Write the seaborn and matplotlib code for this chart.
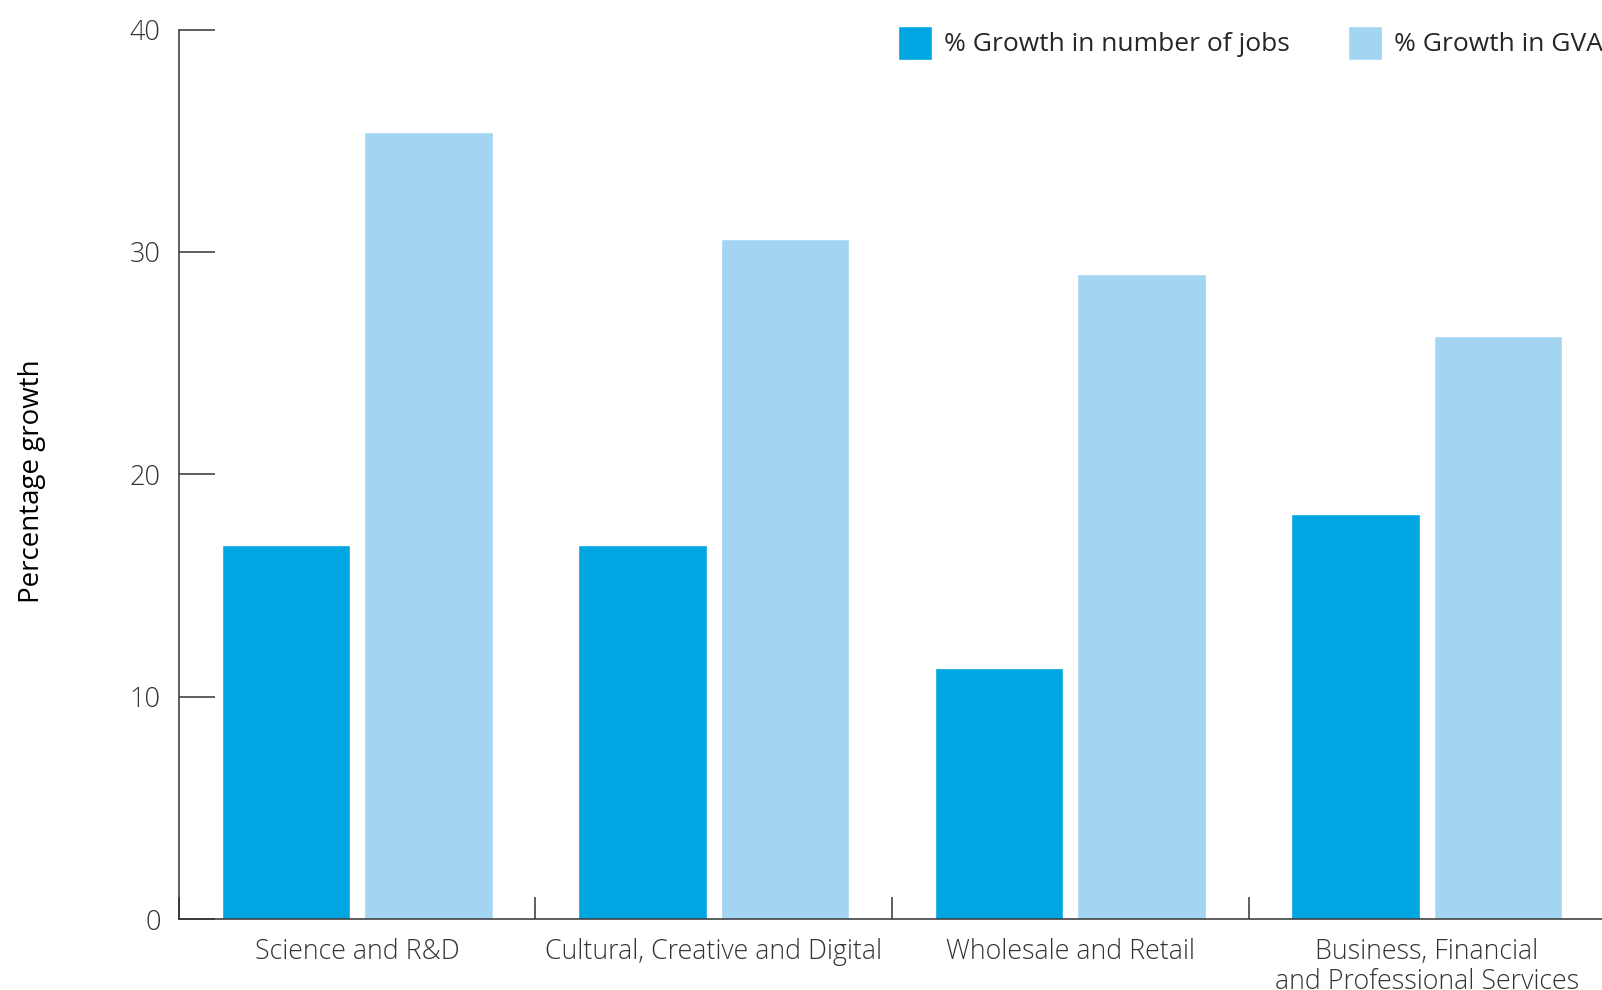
import numpy as np
import pandas as pd
import matplotlib
matplotlib.use("Agg")
import matplotlib.pyplot as plt
import seaborn as sns

# values
sectors = ["Science and R&D", "Cultural, Creative and Digital",
           "Wholesale and Retail", "Business, Financial\nand Professional Services"]
jobs_growth = [16.8, 16.8, 11.3, 18.2]
gva_growth = [35.4, 30.6, 29.0, 26.2]
series = ["% Growth in number of jobs", "% Growth in GVA"]
y_ticks = [0, 10, 20, 30, 40]

df = pd.DataFrame({
    "sector": sectors * 2,
    "growth": jobs_growth + gva_growth,
    "series": [series[0]] * len(sectors) + [series[1]] * len(sectors),
})

sns.set_theme(style="white")
plt.rcParams["font.family"] = ["Open Sans", "DejaVu Sans"]
text_col = "#333333"

fig = plt.figure(figsize=(16.02, 9.9), dpi=100)
ax = fig.add_axes([0.1116, 0.0717, 0.8904, 0.8985])

sns.barplot(data=df, x="sector", y="growth", hue="series", order=sectors,
            hue_order=series, palette=["#00a6e2", "#a3d5f3"],
            width=0.8, gap=0.1, saturation=1, ax=ax)

ax.set_xlim(-0.5, 3.5)
ax.set_ylim(0, 40)
ax.set_yticks(y_ticks)
ax.tick_params(axis="y", direction="in", length=26, width=1.1, color=text_col,
               labelsize=19.5, labelcolor=text_col, pad=13, left=True)
for lab in ax.get_yticklabels():
    lab.set_fontweight("light")

# category boundary ticks (major) and centred labels (minor)
ax.set_xticks([-0.5, 0.5, 1.5, 2.5])
ax.set_xticklabels([])
ax.tick_params(axis="x", which="major", direction="in", length=16, width=1.1,
               color=text_col, bottom=True)
ax.set_xticks(range(len(sectors)), minor=True)
ax.set_xticklabels(sectors, minor=True, fontsize=19.3, color=text_col,
                   fontweight="light", linespacing=1.05)
ax.tick_params(axis="x", which="minor", length=0, pad=14, bottom=True)

ax.set_xlabel("")
ax.set_ylabel("")
fig.text(32 / 1602, 1 - 481 / 990, "Percentage growth", rotation=90,
         ha="center", va="center", fontsize=20, color="black")

for s in ["top", "right"]:
    ax.spines[s].set_visible(False)
for s in ["left", "bottom"]:
    ax.spines[s].set_color(text_col)
    ax.spines[s].set_linewidth(1.1)

handles, labels = ax.get_legend_handles_labels()
ax.legend(handles, labels, loc="upper right", bbox_to_anchor=(1.006, 1.016),
          ncol=2, frameon=False, fontsize=19, handlelength=1.3, handleheight=1.6,
          handletextpad=0.45, columnspacing=2.2, borderaxespad=0)

fig.savefig("out.png", dpi=100)
